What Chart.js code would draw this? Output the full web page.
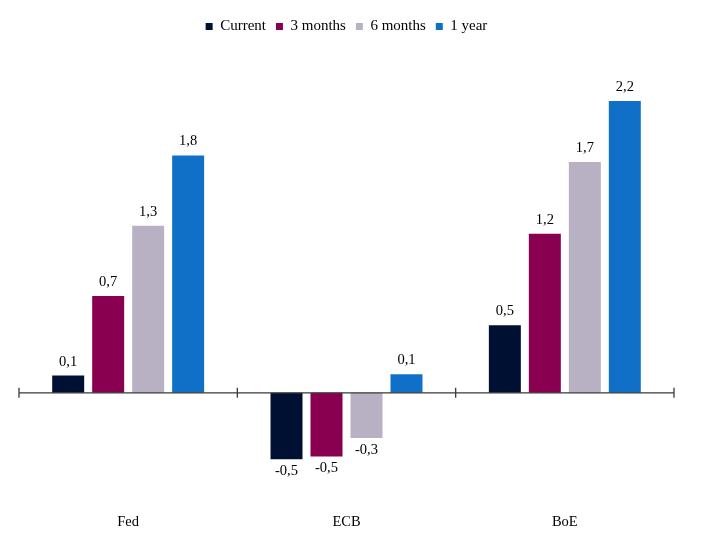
<!DOCTYPE html>
<html>
<head>
<meta charset="utf-8">
<script src="https://cdn.jsdelivr.net/npm/chart.js@4/dist/chart.umd.min.js"></script>
<style>
  html, body { margin: 0; padding: 0; background: #fff; }
  #wrap { width: 701px; height: 546px; }
</style>
</head>
<body>
<div id="wrap"><canvas id="c"></canvas></div>
<script>
const categories = ['Fed', 'ECB', 'BoE'];
const seriesNames = ['Current', '3 months', '6 months', '1 year'];
const currentValues = [0.13, -0.50, 0.51];
const threeMonthValues = [0.73, -0.48, 1.20];
const sixMonthValues = [1.26, -0.34, 1.74];
const oneYearValues = [1.79, 0.14, 2.20];
const seriesColors = ['#001033', '#8a0050', '#b8b0c3', '#1070c8'];

const FONT = 'Liberation Serif, Times New Roman, serif';

const fmt = v => v.toFixed(1).replace('.', ',');

const axisAndLabels = {
  id: 'axisAndLabels',
  afterDatasetsDraw(chart) {
    const ctx = chart.ctx;
    const xs = chart.scales.x, ys = chart.scales.y;
    const area = chart.chartArea;
    const y0 = ys.getPixelForValue(0);
    ctx.save();
    ctx.strokeStyle = '#3a3a3a';
    ctx.lineWidth = 1.3;
    ctx.beginPath();
    ctx.moveTo(area.left, y0);
    ctx.lineTo(area.right, y0);
    for (let i = 0; i <= categories.length; i++) {
      const x = xs.getPixelForValue(i - 0.5);
      ctx.moveTo(x, y0 - 5);
      ctx.lineTo(x, y0 + 5);
    }
    ctx.stroke();
    ctx.fillStyle = '#000';
    ctx.font = '14.5px ' + FONT;
    ctx.textAlign = 'center';
    ctx.textBaseline = 'alphabetic';
    chart.data.datasets.forEach((ds, di) => {
      const meta = chart.getDatasetMeta(di);
      meta.data.forEach((bar, i) => {
        const v = ds.data[i];
        const t = fmt(v);
        if (v >= 0) ctx.fillText(t, bar.x, bar.y - 10);
        else ctx.fillText(t, bar.x, bar.y + 16);
      });
    });
    ctx.restore();
  }
};

const allSeries = [currentValues, threeMonthValues, sixMonthValues, oneYearValues];

new Chart(document.getElementById('c'), {
  type: 'bar',
  data: {
    labels: categories,
    datasets: allSeries.map((vals, i) => ({
      label: seriesNames[i],
      data: vals,
      backgroundColor: seriesColors[i],
      borderWidth: 0,
      categoryPercentage: 0.7326,
      barPercentage: 0.8
    }))
  },
  options: {
    responsive: true,
    maintainAspectRatio: false,
    animation: false,
    layout: { padding: { left: 19, right: 27, top: 9, bottom: 0 } },
    plugins: {
      legend: {
        position: 'top',
        labels: {
          boxWidth: 7,
          boxHeight: 7,
          padding: 10,
          color: '#000',
          font: { family: FONT, size: 15 }
        }
      },
      tooltip: { enabled: false }
    },
    scales: {
      x: {
        grid: { display: false, drawTicks: false },
        border: { display: false },
        ticks: { color: '#000', padding: 15.5, font: { family: FONT, size: 14.5 } }
      },
      y: {
        display: false,
        min: -0.79,
        max: 2.63
      }
    }
  },
  plugins: [axisAndLabels]
});
</script>
</body>
</html>
